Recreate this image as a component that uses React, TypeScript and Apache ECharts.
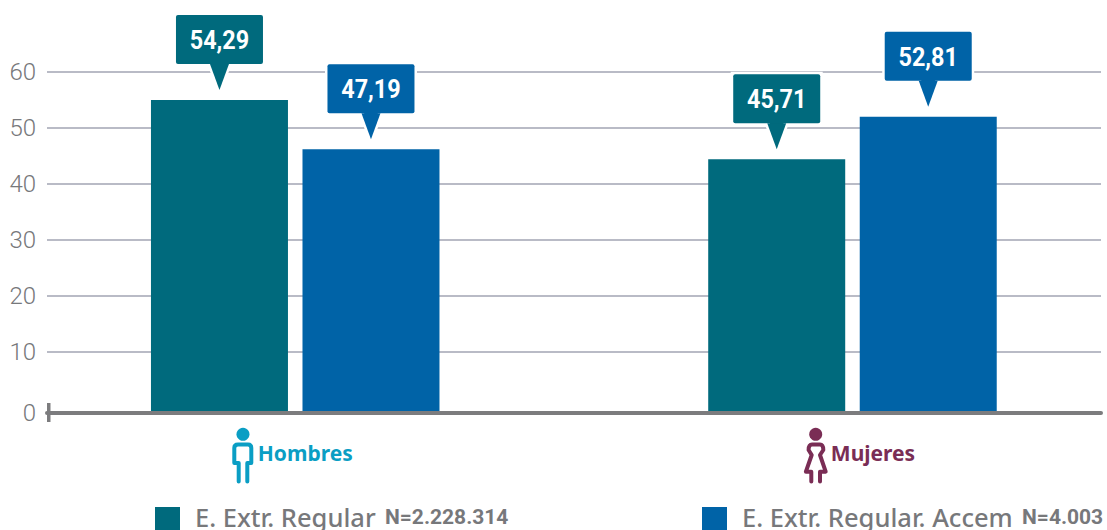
import React, { useEffect, useRef } from "react";
import * as echarts from "echarts";

const categories = ["Hombres", "Mujeres"];
const categoryColors = ["#0a9ec4", "#7a2d55"];
const categoryShift = [20, 41];
const seriesNames = ["E. Extr. Regular", "E. Extr. Regular. Accem"];
const seriesN = ["N=2.228.314", "N=4.003"];
const seriesColors = ["#006a7d", "#0063a7"];
const regularBars = [55.9, 45.3];
const accemBars = [47.1, 52.9];
const regularLabels = [54.29, 45.71];
const accemLabels = [47.19, 52.81];
const ZERO_LABEL = "0";

echarts.graphic.registerShape(
  "iconMan",
  echarts.graphic.extendPath(
    "M238.7 481.5 L238.7 463 L234.3 463 L234.3 448 Q234.3 444.5 238 444.5 L248 444.5 Q251.3 444.5 251.3 448 L251.3 463 L247.3 463 L247.3 481.5",
    {}
  )
);
echarts.graphic.registerShape(
  "iconWoman",
  echarts.graphic.extendPath(
    "M811.3 481.5 L811.3 471.7 L805.9 471.7 L811.7 455 L808.6 450 Q808.6 444.5 812 444.5 L820 444.5 Q823.3 444.5 823.3 450 L820 455 L825.7 471.7 L820 471.7 L820 481.5",
    {}
  )
);

const fmt = (v: number) => v.toFixed(2).replace(".", ",");
const OFFSET = 75.75;

function callout(color: string, side: number) {
  return (params: any, api: any) => {
    const p = api.coord([api.value(0), api.value(1)]);
    const cx = p[0] + side * OFFSET;
    const tip = p[1] - 10;
    const top = tip - 75;
    const outline = [
      [cx - 43.5, top],
      [cx + 43.5, top],
      [cx + 43.5, top + 49],
      [cx + 9.5, top + 49],
      [cx, tip],
      [cx - 9.5, top + 49],
      [cx - 43.5, top + 49],
    ];
    return {
      type: "group",
      children: [
        { type: "polygon", shape: { points: outline }, style: { fill: color, stroke: "#ffffff", lineWidth: 5 } },
        { type: "rect", shape: { x: cx - 43.5, y: top, width: 87, height: 49, r: 2 }, style: { fill: color } },
        { type: "polygon", shape: { points: outline.slice(3, 6) }, style: { fill: color } },
        {
          type: "text",
          x: cx,
          y: top + 25,
          scaleX: 0.9,
          style: {
            x: 0,
            y: 0,
            text: fmt(api.value(2)),
            fill: "#ffffff",
            fontFamily: "Roboto",
            fontWeight: 700,
            fontSize: 26,
            align: "center",
            verticalAlign: "middle",
          },
        },
      ],
    };
  };
}

const legendOf = (i: number, left: number) => ({
  data: [seriesNames[i]],
  left,
  top: 504,
  padding: 0,
  itemWidth: 25,
  itemHeight: 26,
  itemGap: 0,
  selectedMode: false,
  icon: "path://M0 0L0 0ZM0 3H25V26H0Z",
  formatter: (n: string) => `{a|${n}} {b|${seriesN[i]}}`,
  textStyle: {
    padding: [0, 0, 0, 10],
    rich: {
      a: { fontFamily: "Noto Sans", fontWeight: 500, fontSize: 25.5, color: "#77787b" },
      b: { fontFamily: "Roboto", fontWeight: 700, fontSize: 21, color: "#77787b", padding: [0, 0, 0, 6] },
    },
  },
});

export default function App() {
  const ref = useRef<HTMLDivElement>(null);
  useEffect(() => {
    if (!ref.current) return;
    const chart = echarts.init(ref.current, undefined, { renderer: "svg" });
    chart.setOption({
      animation: false,
      backgroundColor: "#ffffff",
      legend: [legendOf(0, 155), legendOf(1, 702)],
      grid: [
        { left: 47, top: 16, width: 1054, height: 392, outerBoundsMode: "none" },
        { left: 16.6, top: 21, width: 1114.5, height: 392, outerBoundsMode: "none" },
      ],
      xAxis: [
        {
          type: "value",
          gridIndex: 0,
          position: "bottom",
          offset: 5,
          z: 5,
          axisLine: { show: true, onZero: false, lineStyle: { color: "#7c7c7e", width: 4 } },
          axisTick: { show: false },
          axisLabel: { show: false },
          splitLine: { show: false },
        },
        {
          type: "category",
          gridIndex: 1,
          data: categories.map((c, i) => ({
            value: c,
            textStyle: { color: categoryColors[i], padding: [0, 0, 0, categoryShift[i]] },
          })),
          axisLine: { show: false, onZero: false },
          axisTick: { show: false },
          axisLabel: {
            margin: 29,
            fontFamily: "Noto Sans",
            fontWeight: 700,
            fontSize: 21,
          },
        },
      ],
      yAxis: [
        {
          type: "value",
          gridIndex: 0,
          min: 0,
          max: 70,
          interval: 10,
          axisLine: { show: false },
          axisTick: { show: false },
          splitLine: { show: true, showMinLine: false, showMaxLine: false, lineStyle: { color: "#b9bbc6", width: 2 } },
          axisLabel: {
            showMinLabel: false,
            showMaxLabel: false,
            margin: 11,
            color: "#77787b",
            fontFamily: "Roboto",
            fontWeight: 300,
            fontSize: 24,
          },
        },
        {
          type: "value",
          gridIndex: 1,
          min: 0,
          max: 70,
          interval: 70,
          position: "left",
          offset: -30.4,
          axisLine: { show: false },
          axisTick: { show: false },
          splitLine: { show: false },
          axisLabel: {
            showMaxLabel: false,
            margin: 11,
            formatter: () => ZERO_LABEL,
            color: "#77787b",
            fontFamily: "Roboto",
            fontWeight: 300,
            fontSize: 24,
          },
        },
      ],
      series: [
        {
          name: seriesNames[0],
          type: "bar",
          xAxisIndex: 1,
          yAxisIndex: 1,
          data: regularBars,
          barWidth: 137,
          barGap: "10.6%",
          itemStyle: { color: seriesColors[0] },
        },
        {
          name: seriesNames[1],
          type: "bar",
          xAxisIndex: 1,
          yAxisIndex: 1,
          data: accemBars,
          barWidth: 137,
          barGap: "10.6%",
          itemStyle: { color: seriesColors[1] },
        },
        {
          name: "callout-regular",
          type: "custom",
          xAxisIndex: 1,
          yAxisIndex: 1,
          z: 6,
          clip: false,
          encode: { x: 0, y: 1 },
          data: regularBars.map((v, i) => [i, v, regularLabels[i]]),
          renderItem: callout(seriesColors[0], -1),
        },
        {
          name: "callout-accem",
          type: "custom",
          xAxisIndex: 1,
          yAxisIndex: 1,
          z: 6,
          clip: false,
          encode: { x: 0, y: 1 },
          data: accemBars.map((v, i) => [i, v, accemLabels[i]]),
          renderItem: callout(seriesColors[1], 1),
        },
      ],
      graphic: [
        { type: "rect", shape: { x: 47, y: 403, width: 3.5, height: 19 }, style: { fill: "#7c7c7e" }, z: 7 },
        { type: "circle", shape: { cx: 243, cy: 434.3, r: 6.5 }, style: { fill: categoryColors[0] } },
        { type: "iconMan", x: 0, y: 0, style: { fill: "none", stroke: categoryColors[0], lineWidth: 4, lineCap: "round", lineJoin: "round" } },
        { type: "circle", shape: { cx: 815.7, cy: 434.3, r: 6.5 }, style: { fill: categoryColors[1] } },
        { type: "iconWoman", x: 0, y: 0, style: { fill: "none", stroke: categoryColors[1], lineWidth: 4, lineCap: "round", lineJoin: "round" } },
      ],
    });
    return () => chart.dispose();
  }, []);
  return <div ref={ref} style={{ position: "fixed", left: 0, top: 0, width: 1107, height: 530 }} />;
}
